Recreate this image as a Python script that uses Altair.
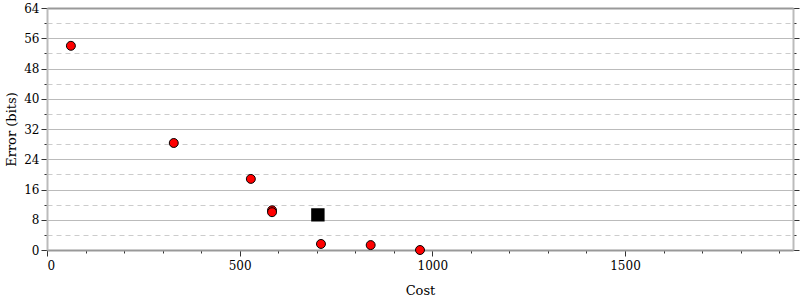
import altair as alt
import pandas as pd

cost = [62, 329, 529, 584, 584, 711, 840, 968]
error = [54.0, 28.3, 18.8, 10.5, 10.0, 1.6, 1.3, 0.0]
best_cost = [703]
best_error = [9.3]

x_ticks = list(range(0, 1936, 100))
y_ticks = list(range(0, 65, 4))

pts = pd.DataFrame({"Cost": cost, "Error": error})
best = pd.DataFrame({"Cost": best_cost, "Error": best_error})

FONT = "DejaVu Serif, Liberation Serif, serif"
xscale = alt.Scale(domain=[0, 1936], nice=False, zero=False)
yscale = alt.Scale(domain=[0, 64], nice=False)

x_axis = alt.Axis(
    title="Cost", values=x_ticks, grid=False, format="d",
    labelExpr="datum.value % 500 == 0 ? datum.label : ''",
    tickSize={"condition": {"test": "datum.value % 500 == 0", "value": 6}, "value": 3},
    tickColor="#333", domainColor="#999", domainWidth=2,
    labelFont=FONT, labelFontSize=12, labelColor="black", labelPadding=4,
    titleFont=FONT, titleFontSize=13, titleFontWeight="normal", titleColor="black", titlePadding=13,
)
y_axis = alt.Axis(
    title="Error (bits)", values=y_ticks, format="d",
    labelExpr="datum.value % 8 == 0 ? datum.label : ''",
    tickSize={"condition": {"test": "datum.value % 8 == 0", "value": 6}, "value": 3},
    gridDash={"condition": {"test": "datum.value % 8 != 0", "value": [5, 4]}, "value": []},
    gridColor={"condition": {"test": "datum.value % 8 != 0", "value": "#ccc"}, "value": "#bbb"},
    grid=True, tickColor="#333", domainColor="#bbb", domainWidth=2,
    labelFont=FONT, labelFontSize=12, labelColor="black", labelPadding=2,
    titleFont=FONT, titleFontSize=13, titleFontWeight="normal", titleColor="black", titlePadding=5,
)

circles = alt.Chart(pts).mark_point(
    shape="circle", filled=True, fill="#ff0000", stroke="black", strokeWidth=1, size=80, opacity=1
).encode(
    x=alt.X("Cost:Q", scale=xscale, axis=x_axis),
    y=alt.Y("Error:Q", scale=yscale, axis=y_axis),
)

square = alt.Chart(best).mark_point(
    shape="square", filled=True, fill="black", stroke="black", size=130, opacity=1
).encode(
    x=alt.X("Cost:Q", scale=xscale, axis=None),
    y=alt.Y("Error:Q", scale=yscale, axis=None),
)

frame = alt.Chart(best).mark_point(opacity=0).encode(
    x=alt.X("Cost:Q", scale=xscale, axis=alt.Axis(orient="top", labels=False, ticks=False, title=None,
                                                  grid=False, domainColor="#999", domainWidth=2)),
    y=alt.Y("Error:Q", scale=yscale, axis=alt.Axis(
        orient="right", values=y_ticks, labels=False, title=None, grid=False,
        tickSize={"condition": {"test": "datum.value % 8 == 0", "value": 6}, "value": 3},
        tickColor="#333", domainColor="#bbb", domainWidth=2)),
)

chart = alt.layer(frame, circles, square).resolve_axis(x="independent", y="independent").properties(
    width=746, height=242,
    autosize=alt.AutoSizeParams(type="none"),
    padding={"left": 47, "top": 8, "right": 7, "bottom": 50},
).configure_view(stroke=None).configure(font=FONT).configure_axis(labelFont=FONT, titleFont=FONT)

chart.save("out.html", embed_options={"renderer": "svg", "actions": False})
